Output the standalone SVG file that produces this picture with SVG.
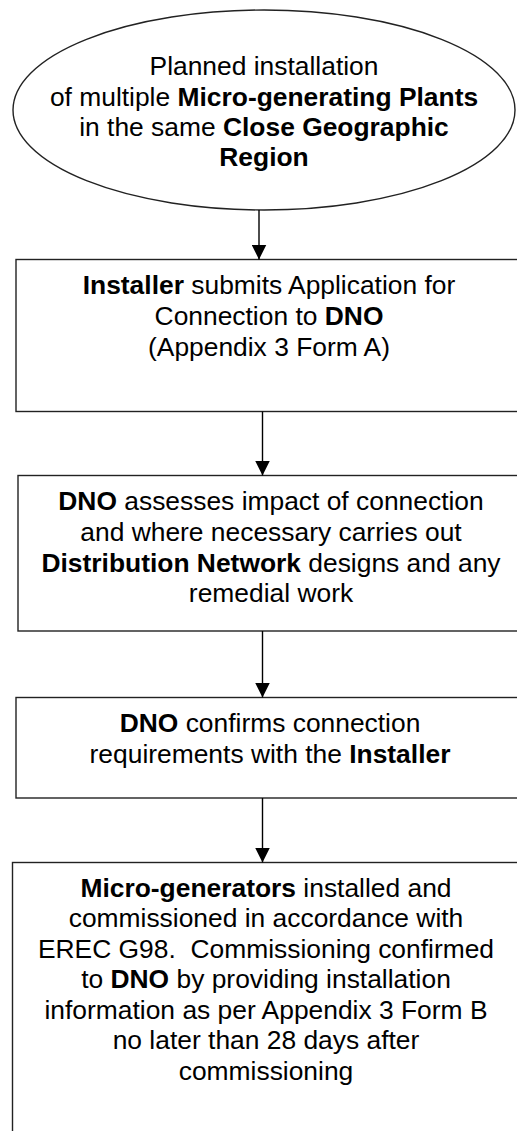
<svg xmlns="http://www.w3.org/2000/svg" width="517" height="1131" viewBox="0 0 517 1131">
<style>
text{font-family:"Liberation Sans",Arial,sans-serif;font-size:26.4px;fill:#000;text-anchor:middle}
.b{font-weight:bold}
.shape{fill:#fff;stroke:#222;stroke-width:1.4}
.conn{stroke:#000;stroke-width:1.4;fill:none}
</style>
<defs>
<marker id="arr" markerUnits="userSpaceOnUse" markerWidth="15" markerHeight="15" refX="15" refY="7.5" orient="auto">
<path d="M0,0 L15,7.5 L0,15 z" fill="#000"/>
</marker>
</defs>
<rect width="517" height="1131" fill="#fff"/>
<g id="start">
<ellipse class="shape" cx="264" cy="110" rx="251" ry="100"/>
<text x="264" y="75">Planned installation</text>
<text x="264" y="105.5">of multiple <tspan class="b">Micro-generating Plants</tspan></text>
<text x="264" y="135.5">in the same <tspan class="b">Close Geographic</tspan></text>
<text x="264" y="166" class="b">Region</text>
</g>
<g id="apply">
<rect class="shape" x="16" y="259.5" width="520" height="152"/>
<text x="269" y="294"><tspan class="b">Installer</tspan> submits Application for</text>
<text x="269" y="325">Connection to <tspan class="b">DNO</tspan></text>
<text x="269" y="356">(Appendix 3 Form A)</text>
</g>
<g id="assess">
<rect class="shape" x="18" y="475.5" width="520" height="155.5"/>
<text x="271" y="510"><tspan class="b">DNO</tspan> assesses impact of connection</text>
<text x="271" y="540.5">and where necessary carries out</text>
<text x="271" y="571.5"><tspan class="b">Distribution Network</tspan> designs and any</text>
<text x="271" y="602">remedial work</text>
</g>
<g id="confirm">
<rect class="shape" x="16" y="697.5" width="520" height="100.5"/>
<text x="270" y="731.5"><tspan class="b">DNO</tspan> confirms connection</text>
<text x="270" y="762.5">requirements with the <tspan class="b">Installer</tspan></text>
</g>
<g id="commission">
<rect class="shape" x="12.5" y="862.5" width="520" height="300"/>
<text x="266" y="896.5"><tspan class="b">Micro-generators</tspan> installed and</text>
<text x="266" y="927">commissioned in accordance with</text>
<text x="266" y="957.5" style="white-space:pre">EREC G98.  Commissioning confirmed</text>
<text x="266" y="988">to <tspan class="b">DNO</tspan> by providing installation</text>
<text x="266" y="1018.5">information as per Appendix 3 Form B</text>
<text x="266" y="1049">no later than 28 days after</text>
<text x="266" y="1079.5">commissioning</text>
</g>
<g id="connectors">
<line class="conn" x1="259" y1="210" x2="259" y2="259.5" marker-end="url(#arr)"/>
<line class="conn" x1="262.5" y1="411.5" x2="262.5" y2="475.5" marker-end="url(#arr)"/>
<line class="conn" x1="262.5" y1="631" x2="262.5" y2="697.5" marker-end="url(#arr)"/>
<line class="conn" x1="262.5" y1="798" x2="262.5" y2="862.5" marker-end="url(#arr)"/>
</g>
</svg>
